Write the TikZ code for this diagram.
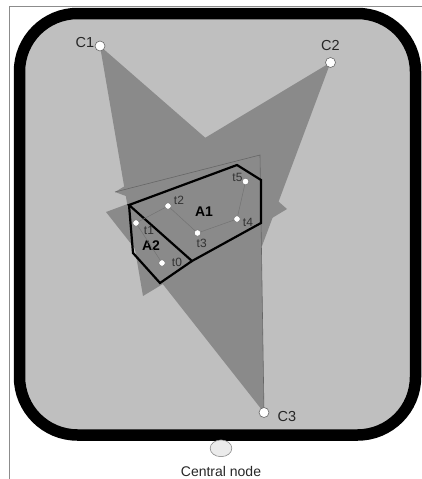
\documentclass[tikz,border=0pt]{standalone}
\usepackage{fontspec}
\setmainfont{Liberation Sans}
\usetikzlibrary{shapes.geometric}
\begin{document}
\begin{tikzpicture}[x=1pt,y=-1pt,
  anchornode/.style={circle,draw=black!60,fill=white,line width=0.6pt,minimum size=10pt,inner sep=0pt},
  tracknode/.style={circle,draw=black!55,fill=white,line width=0.5pt,minimum size=6.5pt,inner sep=0pt},
  tlabel/.style={font=\fontsize{12}{12}\selectfont,text=black!80,inner sep=0pt},
  clabel/.style={font=\fontsize{14.5}{14.5}\selectfont,text=black!85,inner sep=0pt},
  alabel/.style={font=\fontsize{14}{14}\selectfont\bfseries,inner sep=0pt},
  wedge/.style={fill=black!46},
  area/.style={draw=black,line width=2.2pt,line join=miter}]
\useasboundingbox (0,0) rectangle (422,479);
% frame and field:
\path[draw=black!45,line width=0.8pt] (9.5,479) -- (9.5,6.5) -- (422,6.5);
\path[draw=black,fill=black!25,line width=11.5pt,rounded corners=58pt] (19.5,13.5) rectangle (415.5,435);
\coordinate (c1) at (100,46);
\coordinate (c2) at (330.5,62.5);
\coordinate (c3) at (264,412.5);
% sectors of the anchors:
\path[wedge] (c1) -- (287,209) -- (143,296) -- cycle;
\path[wedge] (c2) -- (115,192) -- (262,246) -- cycle;
\path[wedge] (c3) -- (260,155) -- (106,212) -- cycle;
\path[draw=black!60,line width=0.6pt] (115,192) -- (260,155) -- (c3);
% areas:
\path[area] (129,205) -- (237,165) -- (261,180) -- (261,223) -- (192,261) -- cycle;
\path[area] (129,205) -- (133,253) -- (160,283) -- (192,261);
\node[alabel] (a1) at (204,212) {A1};
\node[alabel] (a2) at (151,246) {A2};
% anchors:
\node[anchornode] (C1) at (c1) {};
\node[anchornode] (C2) at (c2) {};
\node[anchornode] (C3) at (c3) {};
\node[clabel] (c1lab) at (85,43) {C1};
\node[clabel] (c2lab) at (330.5,46) {C2};
\node[clabel] (c3lab) at (287,417) {C3};
\node[ellipse,draw=black!45,fill=black!8,line width=0.6pt,minimum width=21.7pt,minimum height=16.7pt,inner sep=0pt] (central) at (221,448.3) {};
\node[font=\fontsize{14}{14}\selectfont,text=black!85,inner sep=0pt] (centrallab) at (221,471) {Central node};
% track:
\node[tracknode] (t0) at (162,263) {};
\node[tracknode] (t1) at (136,223) {};
\node[tracknode] (t2) at (168,206) {};
\node[tracknode] (t3) at (197.5,233) {};
\node[tracknode] (t4) at (237,219) {};
\node[tracknode] (t5) at (245.5,181.5) {};
\draw[black!55,line width=0.5pt] (t0) -- (t1) -- (t2) -- (t3) -- (t4) -- (t5);
\node[tlabel] (t0lab) at (177,262) {t0};
\node[tlabel] (t1lab) at (149,230) {t1};
\node[tlabel] (t2lab) at (179,200) {t2};
\node[tlabel] (t3lab) at (201.7,243) {t3};
\node[tlabel] (t4lab) at (248,222.7) {t4};
\node[tlabel] (t5lab) at (237.5,177.5) {t5};
\end{tikzpicture}
\end{document}
